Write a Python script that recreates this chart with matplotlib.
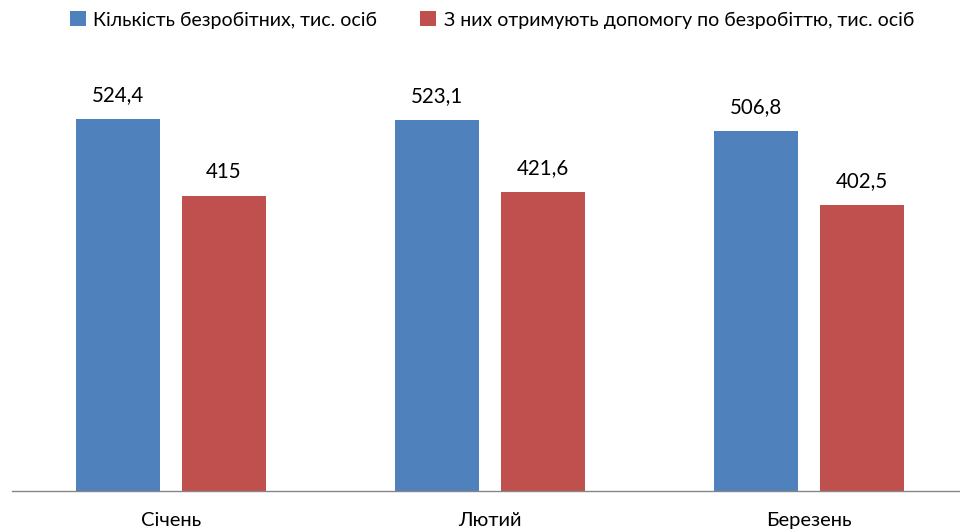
import matplotlib
matplotlib.use("Agg")
import matplotlib.pyplot as plt
import numpy as np

plt.rcParams['font.family'] = ['Lato', 'DejaVu Sans']

categories = ["Січень", "Лютий", "Березень"]
series_names = ["Кількість безробітних, тис. осіб",
                "З них отримують допомогу по безробіттю, тис. осіб"]
unemployed = [524.4, 523.1, 506.8]
assisted = [415, 421.6, 402.5]
labels_unemployed = ["524,4", "523,1", "506,8"]
labels_assisted = ["415", "421,6", "402,5"]
colors = ["#4F81BD", "#C0504D"]

fig = plt.figure(figsize=(9.6, 5.31), dpi=100)
ax = fig.add_axes([11.5/960, 40/531, 957/960, 426/531])

x = np.arange(len(categories))
w = 84/319
off = 52.75/319
b1 = ax.bar(x - off, unemployed, w, color=colors[0], label=series_names[0])
b2 = ax.bar(x + off, assisted, w, color=colors[1], label=series_names[1])

for bars, labs in ((b1, labels_unemployed), (b2, labels_assisted)):
    for r, t in zip(bars, labs):
        ax.annotate(t, (r.get_x() + r.get_width()/2, r.get_height()),
                    xytext=(0, 10), textcoords="offset points",
                    ha="center", va="bottom", fontsize=14.8, color="#000000")

ax.set_xlim(-0.5, 2.5)
ax.set_ylim(0, 600)
ax.set_xticks(x)
ax.set_xticklabels(categories, fontsize=14.5)
ax.tick_params(axis='x', length=0, pad=15)
ax.set_yticks([])
for s in ["top", "right", "left"]:
    ax.spines[s].set_visible(False)
ax.spines["bottom"].set_color("#868686")
ax.spines["bottom"].set_linewidth(1.0)

fig.legend(handles=[b1, b2], labels=series_names, loc="center",
           bbox_to_anchor=(492/960, 1 - 20/531), ncol=2, frameon=False,
           fontsize=14, handlelength=0.8, handleheight=0.8,
           handletextpad=0.4, columnspacing=2.2)

fig.savefig("out.png", dpi=100)
